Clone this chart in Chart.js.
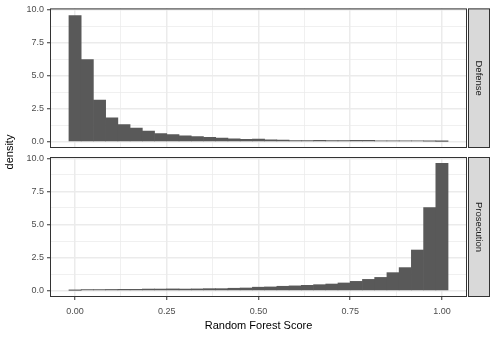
<!DOCTYPE html>
<html>
<head>
<meta charset="utf-8">
<script src="https://cdn.jsdelivr.net/npm/chart.js@4"></script>
<style>
  body { margin: 0; background: #fff; }
  #wrap { position: relative; width: 498px; height: 339px; }
  #wrap canvas { position: absolute; left: 0; top: 0; }
</style>
</head>
<body>
<div id="wrap">
  <canvas id="defenseChart" width="498" height="339"></canvas>
  <canvas id="prosecutionChart" width="498" height="339"></canvas>
</div>
<script>
// bin centres (binwidth 1/30)
var scores = [0, 0.0333, 0.0667, 0.1, 0.1333, 0.1667, 0.2, 0.2333, 0.2667, 0.3, 0.3333,
    0.3667, 0.4, 0.4333, 0.4667, 0.5, 0.5333, 0.5667, 0.6, 0.6333, 0.6667,
    0.7, 0.7333, 0.7667, 0.8, 0.8333, 0.8667, 0.9, 0.9333, 0.9667, 1];

var defense = [9.55, 6.22, 3.16, 1.80, 1.30, 1.03, 0.80, 0.62, 0.53, 0.45, 0.38,
    0.32, 0.28, 0.22, 0.17, 0.20, 0.14, 0.11, 0.09, 0.09, 0.10,
    0.08, 0.08, 0.10, 0.10, 0.07, 0.06, 0.06, 0.05, 0.04, 0.02];

var prosecution = [0.02, 0.08, 0.08, 0.09, 0.10, 0.10, 0.12, 0.12, 0.13, 0.12, 0.13,
    0.15, 0.15, 0.18, 0.20, 0.26, 0.28, 0.33, 0.36, 0.40, 0.45,
    0.50, 0.58, 0.70, 0.85, 1.00, 1.36, 1.74, 3.07, 6.27, 9.62];

var xGrid = [0, 0.125, 0.25, 0.375, 0.5, 0.625, 0.75, 0.875, 1];
var xLabels = ["0.00", "", "0.25", "", "0.50", "", "0.75", "", "1.00"];
var yGrid = [0, 1.25, 2.5, 3.75, 5, 6.25, 7.5, 8.75, 10];
var yLabels = ["0.0", "", "2.5", "", "5.0", "", "7.5", "", "10.0"];

Chart.defaults.font.family = "'Liberation Sans', Arial, sans-serif";

var facetPlugin = {
    id: "facet",
    afterDraw: function(chart, args, opts) {
        var ctx = chart.ctx, a = chart.chartArea;
        ctx.save();
        ctx.strokeStyle = "#333333";
        ctx.lineWidth = 1;
        ctx.strokeRect(a.left + 0.5, a.top + 0.5, a.right - a.left - 1, a.bottom - a.top - 1);

        var sx = a.right + 1, sw = 22;
        ctx.fillStyle = "#D9D9D9";
        ctx.fillRect(sx, a.top, sw, a.bottom - a.top);
        ctx.strokeRect(sx + 0.5, a.top + 0.5, sw - 1, a.bottom - a.top - 1);

        ctx.save();
        ctx.translate(sx + sw / 2, (a.top + a.bottom) / 2);
        ctx.rotate(Math.PI / 2);
        ctx.fillStyle = "#1A1A1A";
        ctx.font = "9.5px 'Liberation Sans', Arial, sans-serif";
        ctx.textAlign = "center";
        ctx.textBaseline = "middle";
        ctx.fillText(opts.label, 0, 0);
        ctx.restore();

        if (opts.yTitle) {
            ctx.translate(10, 152);
            ctx.rotate(-Math.PI / 2);
            ctx.fillStyle = "#000000";
            ctx.font = "11px 'Liberation Sans', Arial, sans-serif";
            ctx.textAlign = "center";
            ctx.textBaseline = "middle";
            ctx.fillText(opts.yTitle, 0, 0);
        }
        ctx.restore();
    }
};

function gridColor() { return "#EBEBEB"; }
function gridWidth(c) { return c.index % 2 === 0 ? 1.5 : 0.75; }
function tickColor(c) { return c.index % 2 === 0 ? "#333333" : "rgba(0,0,0,0)"; }

function makeChart(id, values, label, bottom) {
    var points = scores.map(function(s, i) { return { x: s, y: values[i] }; });
    return new Chart(document.getElementById(id).getContext("2d"), {
        type: "bar",
        data: {
            datasets: [{
                data: points,
                backgroundColor: "#595959",
                borderWidth: 0,
                barPercentage: 1,
                categoryPercentage: 1
            }]
        },
        plugins: [facetPlugin],
        options: {
            responsive: false,
            animation: false,
            devicePixelRatio: 1,
            layout: { padding: { left: 0, right: 31, top: bottom ? 157 : 8, bottom: bottom ? 0 : 191 } },
            plugins: {
                legend: { display: false },
                tooltip: { enabled: false },
                facet: { label: label, yTitle: bottom ? "density" : null }
            },
            scales: {
                x: {
                    type: "linear",
                    min: -0.0683,
                    max: 1.0683,
                    offset: false,
                    afterBuildTicks: function(s) { s.ticks = xGrid.map(function(v) { return { value: v }; }); },
                    afterFit: function(s) { s.height = bottom ? 42 : 0; },
                    border: { display: false },
                    grid: {
                        offset: false,
                        color: gridColor,
                        lineWidth: gridWidth,
                        drawTicks: bottom,
                        tickLength: 3,
                        tickColor: tickColor,
                        tickWidth: 1
                    },
                    ticks: {
                        display: bottom,
                        autoSkip: false,
                        maxRotation: 0,
                        padding: 6,
                        color: "#4D4D4D",
                        font: { size: 9 },
                        callback: function(v, i) { return xLabels[i]; }
                    },
                    title: {
                        display: bottom,
                        text: "Random Forest Score",
                        color: "#000000",
                        font: { size: 11 },
                        padding: { top: 2, bottom: 6 }
                    }
                },
                y: {
                    min: -0.481,
                    max: 10.101,
                    afterBuildTicks: function(s) { s.ticks = yGrid.map(function(v) { return { value: v }; }); },
                    afterFit: function(s) { s.width = 50; },
                    border: { display: false },
                    grid: {
                        color: gridColor,
                        lineWidth: gridWidth,
                        drawTicks: true,
                        tickLength: 3,
                        tickColor: tickColor,
                        tickWidth: 1
                    },
                    ticks: {
                        autoSkip: false,
                        padding: 3,
                        color: "#4D4D4D",
                        font: { size: 9 },
                        callback: function(v, i) { return yLabels[i]; }
                    }
                }
            }
        }
    });
}

var defenseChart = makeChart("defenseChart", defense, "Defense", false);
var prosecutionChart = makeChart("prosecutionChart", prosecution, "Prosecution", true);
</script>
</body>
</html>
